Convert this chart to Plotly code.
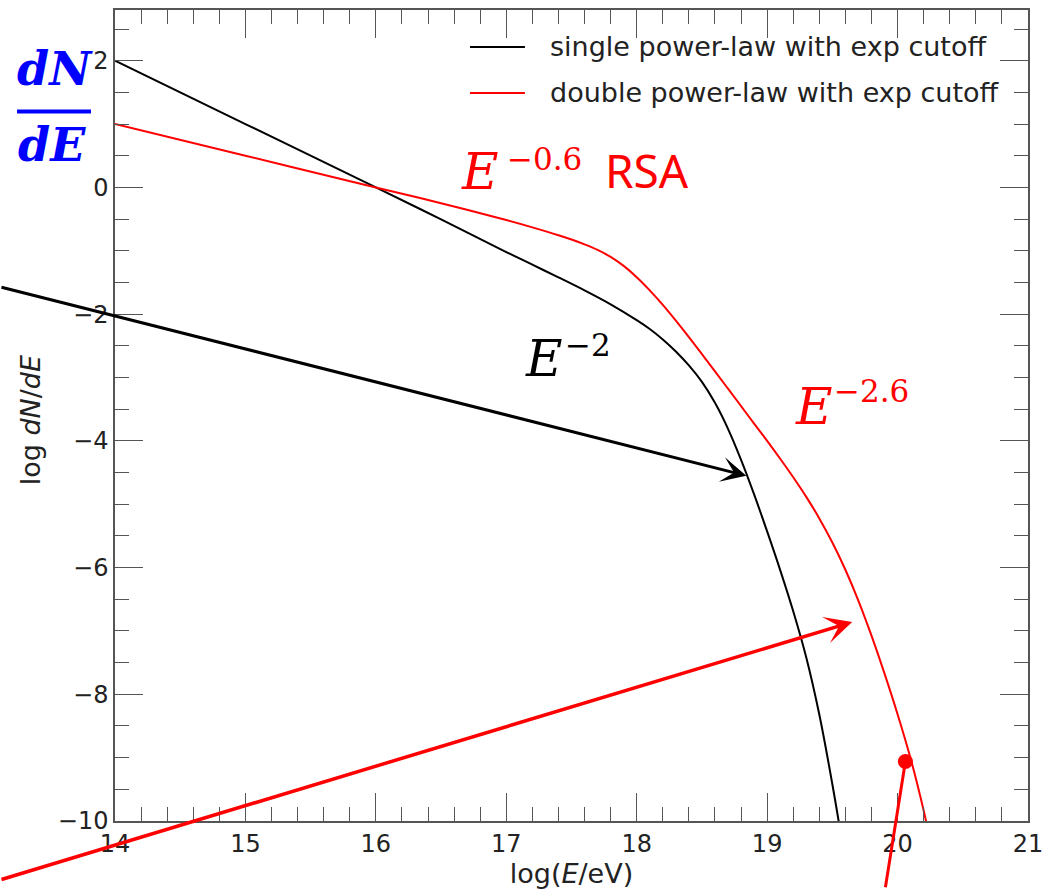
import plotly.graph_objects as go

# ---- spectra: log10(E/eV) vs log10 dN/dE ----
series_names = ["single power-law with exp cutoff", "double power-law with exp cutoff"]
series_colors = ["#000000", "#ff0000"]

single_logE = [14.0, 15.0, 16.0, 16.5, 17.0, 17.2, 17.4, 17.6, 17.8, 18.0, 18.1, 18.2,
               18.3, 18.4, 18.5, 18.6, 18.7, 18.8, 18.9, 19.0, 19.1, 19.2, 19.3, 19.4,
               19.5, 19.56]
single_logN = [2.0, 1.0, 0.0, -0.505, -1.02, -1.22, -1.42, -1.625, -1.845, -2.095, -2.235,
               -2.40, -2.59, -2.81, -3.07, -3.40, -3.81, -4.30, -4.845, -5.43, -6.04, -6.69,
               -7.42, -8.32, -9.42, -10.15]

double_logE = [14.0, 15.0, 16.0, 16.5, 17.0, 17.2, 17.4, 17.5, 17.6, 17.7, 17.8, 17.9,
               18.0, 18.1, 18.2, 18.3, 18.4, 18.5, 18.6, 18.7, 18.8, 18.9, 19.0, 19.1,
               19.2, 19.3, 19.4, 19.5, 19.6, 19.7, 19.8, 19.9, 20.0, 20.1, 20.2, 20.25]
double_logN = [1.0, 0.5, 0.0, -0.25, -0.515, -0.631, -0.755, -0.823, -0.899, -0.987,
               -1.097, -1.239, -1.417, -1.625, -1.855, -2.103, -2.363, -2.631, -2.903,
               -3.177, -3.452, -3.727, -4.0, -4.282, -4.574, -4.884, -5.224, -5.604,
               -6.034, -6.524, -7.074, -7.674, -8.314, -9.014, -9.834, -10.31]

# marked point on the double power-law curve
marker_logE = [20.06]
marker_logN = [-9.06]

# axis ranges / ticks
x_range = [14, 21]
y_range = [-10, 2.8]

AXIS_GREY = "#555555"
TEXT = "#222222"
SERIF = "DejaVu Serif, Liberation Serif, serif"
SANS = "DejaVu Sans, Liberation Sans, sans-serif"

fig = go.Figure()

fig.add_trace(go.Scatter(x=single_logE, y=single_logN, mode="lines",
                         name=series_names[0], showlegend=False,
                         line=dict(color=series_colors[0], width=2, shape="spline", smoothing=1)))
fig.add_trace(go.Scatter(x=double_logE, y=double_logN, mode="lines",
                         name=series_names[1], showlegend=False,
                         line=dict(color=series_colors[1], width=2, shape="spline", smoothing=1)))
fig.add_trace(go.Scatter(x=marker_logE, y=marker_logN, mode="markers", showlegend=False,
                         marker=dict(color="#ff0000", size=15), cliponaxis=False))

axis_common = dict(
    showgrid=False, zeroline=False, showline=True, linecolor=AXIS_GREY, linewidth=1.5,
    mirror="allticks", ticks="inside", ticklen=28, tickwidth=1.3, tickcolor=AXIS_GREY,
    tickfont=dict(family=SANS, size=24, color=TEXT), ticklabeloverflow="allow",
    automargin=False,
)

fig.update_xaxes(range=x_range, tickmode="linear", tick0=14, dtick=1,
                 minor=dict(dtick=0.2, ticks="inside", ticklen=14, tickwidth=1.3,
                            tickcolor=AXIS_GREY, showgrid=False),
                 title=dict(text="log(<i>E</i>/eV)", font=dict(family=SANS, size=27, color=TEXT),
                            standoff=6),
                 **axis_common)
fig.update_yaxes(range=y_range, tickmode="linear", tick0=0, dtick=2,
                 minor=dict(dtick=0.5, ticks="inside", ticklen=14, tickwidth=1.3,
                            tickcolor=AXIS_GREY, showgrid=False),
                 **axis_common)

annotations = []
shapes = []

# y-axis label
annotations.append(dict(xref="paper", yref="paper", x=-0.0931, y=0.494, textangle=-90,
                        xanchor="center", yanchor="middle", showarrow=False,
                        text="log <i>dN</i>/<i>dE</i>",
                        font=dict(family=SANS, size=27, color=TEXT)))

# ---- legend (upper right, no frame) ----
legend_rows = [0.9544, 0.8977]
for name, color, yrow in zip(series_names, series_colors, legend_rows):
    shapes.append(dict(type="line", xref="paper", yref="paper",
                       x0=0.3888, x1=0.449, y0=yrow, y1=yrow,
                       line=dict(color=color, width=2)))
    annotations.append(dict(xref="paper", yref="paper", x=0.4743, y=yrow,
                            xanchor="left", yanchor="middle", showarrow=False,
                            text=name, font=dict(family=SANS, size=27, color=TEXT)))

# ---- spectral-index labels ----
def power_label(xe, ye, xs, ys, exponent, color):
    annotations.append(dict(x=xe, y=ye, xanchor="center", yanchor="middle", showarrow=False,
                            text="<i>E</i>", font=dict(family=SERIF, size=50, color=color)))
    annotations.append(dict(x=xs, y=ys, xanchor="left", yanchor="middle", showarrow=False,
                            text=exponent, font=dict(family=SERIF, size=31, color=color)))

power_label(16.798, 0.243, 16.99, 0.448, "\u22120.6", "#ff0000")
power_label(17.289, -2.708, 17.435, -2.487, "\u22122", "#000000")
power_label(19.359, -3.466, 19.497, -3.213, "\u22122.6", "#ff0000")
annotations.append(dict(x=17.741, y=0.275, xanchor="left", yanchor="middle", showarrow=False,
                        text="RSA", font=dict(family="Noto Sans, DejaVu Sans, sans-serif",
                                              size=46, color="#ff0000")))

# ---- pointer arrows ----
annotations.append(dict(x=18.84, y=-4.55, ax=13.118, ay=-1.569, axref="x", ayref="y",
                        text="", showarrow=True, arrowhead=3, arrowsize=1.4,
                        arrowwidth=3, arrowcolor="#000000"))
annotations.append(dict(x=19.652, y=-6.86, ax=13.118, ay=-10.93, axref="x", ayref="y",
                        text="", showarrow=True, arrowhead=3, arrowsize=1.3,
                        arrowwidth=3.5, arrowcolor="#ff0000"))
annotations.append(dict(x=marker_logE[0], y=marker_logN[0], ax=19.905, ay=-11.07,
                        axref="x", ayref="y", text="", showarrow=True, arrowhead=0,
                        arrowwidth=3, arrowcolor="#ff0000"))

# ---- dN/dE fraction in the corner ----
annotations.append(dict(xref="paper", yref="paper", x=-0.0657, y=0.9272,
                        xanchor="center", yanchor="middle", showarrow=False,
                        text="<b><i>dN</i></b>", font=dict(family=SERIF, size=46, color="#0000ff")))
annotations.append(dict(xref="paper", yref="paper", x=-0.069, y=0.8335,
                        xanchor="center", yanchor="middle", showarrow=False,
                        text="<b><i>dE</i></b>", font=dict(family=SERIF, size=46, color="#0000ff")))
shapes.append(dict(type="line", xref="paper", yref="paper", x0=-0.1073, x1=-0.0263,
                   y0=0.8748, y1=0.8748, line=dict(color="#0000ff", width=4)))

fig.update_layout(
    width=1043, height=889,
    margin=dict(l=115, r=15, t=10, b=68),
    paper_bgcolor="white", plot_bgcolor="white",
    annotations=annotations, shapes=shapes,
    showlegend=False,
)

fig.write_html("out.html")
